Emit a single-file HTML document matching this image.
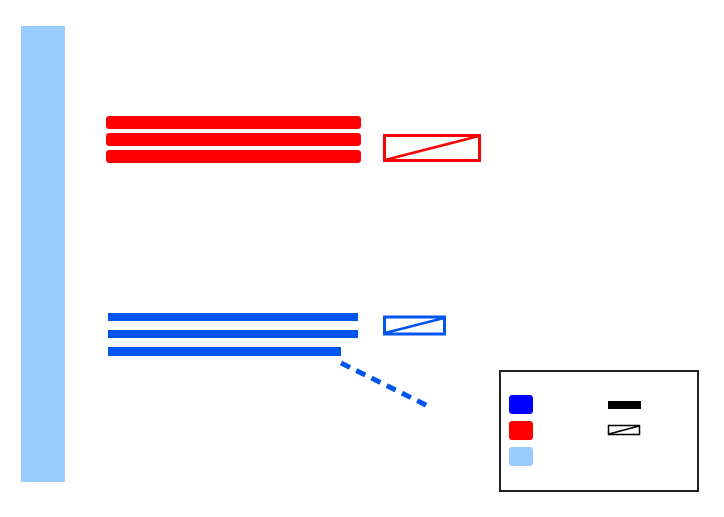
<!DOCTYPE html>
<html><head><style>body{margin:0;background:#fff}</style></head><body>
<svg width="724" height="512" xmlns="http://www.w3.org/2000/svg">
<rect x="0" y="0" width="724" height="512" fill="#fff"/>
<rect x="21" y="26" width="44" height="456" fill="#99ccff"/>
<rect x="106" y="116" width="255" height="13" rx="3" fill="#ff0000"/>
<rect x="106" y="133" width="255" height="13" rx="3" fill="#ff0000"/>
<rect x="106" y="150" width="255" height="13" rx="3" fill="#ff0000"/>
<rect x="384.5" y="135.5" width="95" height="25" fill="none" stroke="#ff0000" stroke-width="3"/>
<line x1="385" y1="160" x2="479" y2="136" stroke="#ff0000" stroke-width="2.5"/>
<rect x="108" y="313" width="250" height="8" fill="#0055ee"/>
<rect x="108" y="330" width="250" height="8" fill="#0055ee"/>
<rect x="108" y="347" width="233" height="9" fill="#0055ee"/>
<rect x="384.5" y="317" width="60" height="17" fill="none" stroke="#0055ee" stroke-width="3"/>
<line x1="385" y1="333" x2="444" y2="318" stroke="#0055ee" stroke-width="2.5"/>
<line x1="341" y1="363" x2="428" y2="406" stroke="#0055ee" stroke-width="5" stroke-dasharray="10,7"/>
<rect x="500" y="371" width="198" height="120" fill="#fff" stroke="#222" stroke-width="2"/>
<rect x="509" y="395" width="24" height="19" rx="3" fill="#0000ff"/>
<rect x="509" y="421" width="24" height="19" rx="3" fill="#ff0000"/>
<rect x="509" y="447" width="24" height="19" rx="3" fill="#99ccff"/>
<rect x="608" y="401" width="33" height="8" fill="#000"/>
<rect x="608.5" y="425.5" width="31" height="9" fill="none" stroke="#000" stroke-width="1.5"/>
<line x1="609" y1="434" x2="639" y2="426" stroke="#000" stroke-width="1.5"/>
</svg>
</body></html>
